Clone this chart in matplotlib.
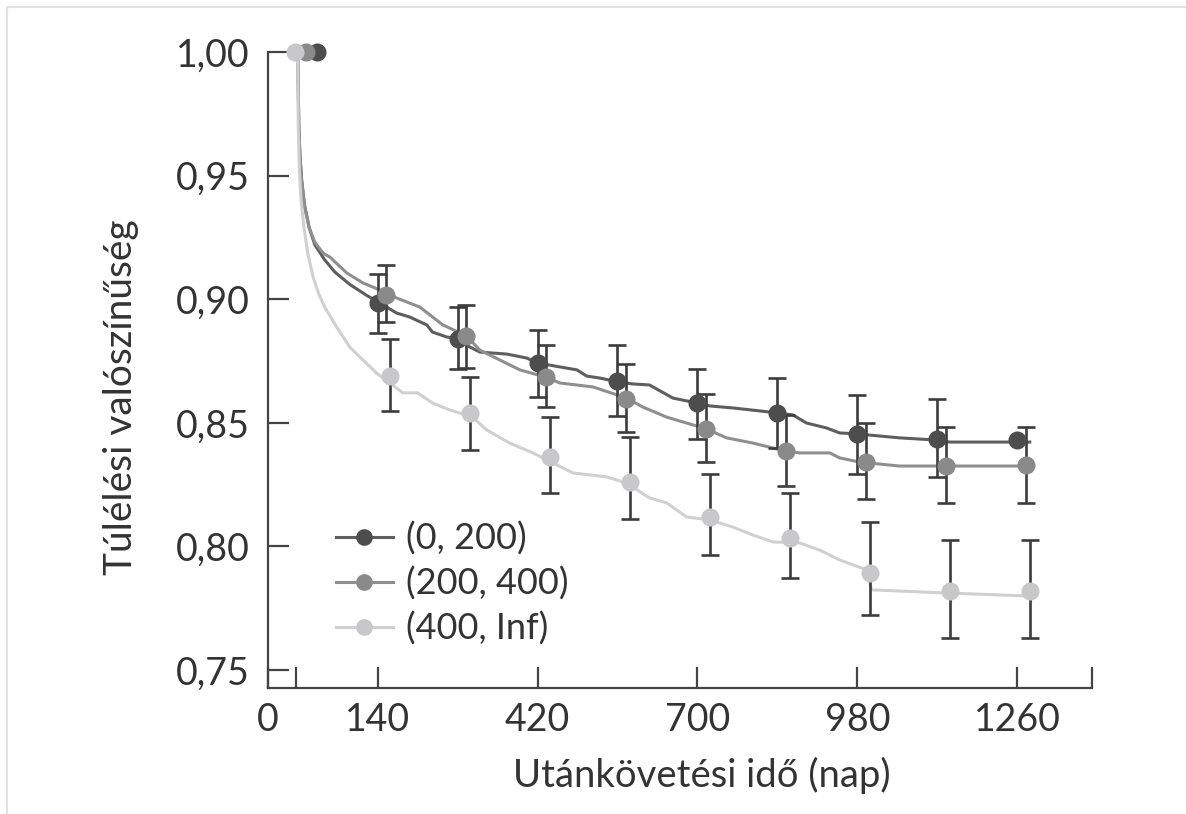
import numpy as np
import matplotlib.pyplot as plt
from matplotlib.lines import Line2D

plt.rcParams['font.family'] = ['Lato', 'DejaVu Sans']

# csoportok (legend)
labels = ['(0, 200)', '(200, 400)', '(400, Inf)']

# Kaplan-Meier gorbek (nap, tulelesi valoszinuseg)
dark_t = [0, 1, 2, 4, 7, 12, 20, 30, 47, 65, 91, 121, 144, 173, 196, 226, 236, 261, 282,
          301, 319, 342, 366, 401, 420, 459, 489, 506, 529, 562, 587, 616, 657, 699, 722,
          762, 809, 839, 867, 891, 926, 949, 979, 1054, 1119, 1142, 1282]
dark_s = [1.0, 0.985, 0.970, 0.958, 0.948, 0.938, 0.929, 0.922, 0.916, 0.911, 0.906,
          0.9015, 0.8985, 0.8944, 0.8928, 0.8896, 0.8867, 0.8847, 0.8839, 0.8807, 0.8786,
          0.8782, 0.8778, 0.8762, 0.8742, 0.8726, 0.8714, 0.8689, 0.8681, 0.8665, 0.8657,
          0.8653, 0.8600, 0.8580, 0.8568, 0.8560, 0.8548, 0.8540, 0.8532, 0.8499, 0.8479,
          0.8459, 0.8455, 0.8439, 0.8430, 0.8422, 0.8422]

mid_t = [0, 1, 2, 4, 7, 12, 20, 30, 45, 56, 86, 114, 144, 173, 214, 254, 296, 319, 354,
         389, 434, 459, 517, 576, 604, 646, 681, 716, 751, 797, 853, 879, 932, 949, 984,
         1054, 1131, 1282]
mid_s = [1.0, 0.985, 0.970, 0.958, 0.948, 0.938, 0.929, 0.923, 0.9185, 0.9171, 0.9106,
         0.9066, 0.9037, 0.9005, 0.8968, 0.8896, 0.8851, 0.8794, 0.8754, 0.8714, 0.8685,
         0.8661, 0.8645, 0.8600, 0.8564, 0.8523, 0.8499, 0.8475, 0.8439, 0.8418, 0.8386,
         0.8378, 0.8378, 0.8358, 0.8341, 0.8325, 0.8325, 0.8325]

light_t = [0, 1, 3, 6, 11, 18, 27, 37, 48, 68, 91, 109, 138, 166, 184, 210, 236, 266, 306,
           331, 371, 412, 447, 482, 541, 576, 616, 646, 681, 722, 762, 797, 832, 879, 914,
           949, 996, 1005, 1140, 1282]
light_s = [1.0, 0.970, 0.952, 0.940, 0.929, 0.918, 0.909, 0.902, 0.8965, 0.8888, 0.8807,
           0.8766, 0.8701, 0.8653, 0.8621, 0.8621, 0.8580, 0.8552, 0.8523, 0.8471, 0.8418,
           0.8378, 0.8337, 0.8297, 0.8281, 0.8256, 0.8196, 0.8176, 0.8119, 0.8107, 0.8078,
           0.8046, 0.8018, 0.8014, 0.7985, 0.7945, 0.7905, 0.7824, 0.7811, 0.7799]

# pontok hibasavokkal
dark_x = [33, 140, 280, 420, 560, 700, 840, 980, 1120, 1260]
dark_y = [1.0, 0.8985, 0.8839, 0.8742, 0.8667, 0.8580, 0.8540, 0.8455, 0.8434, 0.8430]
dark_lo = [np.nan, 0.8863, 0.8718, 0.8604, 0.8528, 0.8434, 0.8398, 0.8293, 0.8281, np.nan]
dark_hi = [np.nan, 0.9100, 0.8968, 0.8875, 0.8813, 0.8718, 0.8681, 0.8612, 0.8596, np.nan]

mid_x = [15, 155, 295, 435, 575, 715, 855, 995, 1135, 1275]
mid_y = [1.0, 0.9017, 0.8851, 0.8685, 0.8596, 0.8475, 0.8386, 0.8341, 0.8325, 0.8329]
mid_lo = [np.nan, 0.8908, 0.8722, 0.8564, 0.8463, 0.8341, 0.8244, 0.8192, 0.8176, 0.8176]
mid_hi = [np.nan, 0.9138, 0.8977, 0.8815, 0.8736, 0.8617, 0.8532, 0.8499, 0.8483, 0.8483]

light_x = [-5, 162, 302, 442, 582, 722, 862, 1002, 1142, 1282]
light_y = [1.0, 0.8689, 0.8540, 0.8362, 0.8260, 0.8119, 0.8034, 0.7892, 0.7820, 0.7820]
light_lo = [np.nan, 0.8548, 0.8390, 0.8216, 0.8111, 0.7965, 0.7870, 0.7722, 0.7629, 0.7629]
light_hi = [np.nan, 0.8839, 0.8685, 0.8523, 0.8443, 0.8293, 0.8216, 0.8099, 0.8026, 0.8026]

yticks = [0.75, 0.80, 0.85, 0.90, 0.95, 1.00]
xticks = [-52, -3, 140, 420, 700, 980, 1260, 1391]
xticklabels = ['0', '', '140', '420', '700', '980', '1260', '']

mark_col = ['#4d4d4d', '#8a8a8a', '#c8c8cb']
line_col = ['#5e5e5e', '#8f8f8f', '#d0d0d0']
err_col = '#3c3c3c'
txt_col = '#333333'

fig = plt.figure(figsize=(11.86, 8.14), dpi=100)
ax = fig.add_axes([268/1186, 1-688/814, 824/1186, 636/814])

curves = [(dark_t, dark_s), (mid_t, mid_s), (light_t, light_s)]
pts = [(dark_x, dark_y, dark_lo, dark_hi), (mid_x, mid_y, mid_lo, mid_hi),
       (light_x, light_y, light_lo, light_hi)]

for i, (t, s) in enumerate(curves):
    ax.plot(t, s, color=line_col[i], lw=2.2, zorder=2, clip_on=False)

for i, (x, y, lo, hi) in enumerate(pts):
    y = np.array(y)
    err = np.array([y - np.array(lo), np.array(hi) - y])
    ax.errorbar(x, y, yerr=err, fmt='none', ecolor=err_col, elinewidth=1.9,
                capsize=6.5, capthick=1.9, zorder=3)

for i, (x, y, lo, hi) in enumerate(pts):
    ax.plot(x, y, 'o', ms=13, color=mark_col[i], mec='none', zorder=4, clip_on=False)

ax.set_xlim(-52, 1391)
ax.set_ylim(0.7427, 1.0)
ax.set_yticks(yticks, [f'{v:.2f}'.replace('.', ',') for v in yticks])
ax.set_xticks(xticks, xticklabels)

for sp in ['top', 'right']:
    ax.spines[sp].set_visible(False)
for sp in ['left', 'bottom']:
    ax.spines[sp].set_color('#444444')
    ax.spines[sp].set_linewidth(1.6)

ax.tick_params(direction='in', length=15, width=1.6, color='#444444',
               labelsize=27, labelcolor=txt_col)
ax.tick_params(axis='y', pad=13)
ax.tick_params(axis='x', pad=10)

ax.set_xlabel('Utánkövetési idő (nap)', fontsize=27.5, color=txt_col)
ax.xaxis.set_label_coords(0.527, -0.108)
ax.set_ylabel('Túlélési valószínűség', fontsize=28, color=txt_col)
ax.yaxis.set_label_coords(-0.156, 0.4575)

handles = [Line2D([0], [0], color=line_col[i], lw=2.2, marker='o', ms=12,
                  markerfacecolor=mark_col[i], markeredgecolor='none') for i in range(3)]
leg = ax.legend(handles, labels, loc='upper left', bbox_to_anchor=(0.082, 0.262),
                frameon=False, fontsize=26, handlelength=1.6, handletextpad=0.35,
                labelspacing=0.3, borderpad=0, borderaxespad=0)
for tx in leg.get_texts():
    tx.set_color(txt_col)

# halvany keret a kep tetejen es bal oldalan
fig.add_artist(Line2D([7/1186, 1], [1-7/814, 1-7/814], color='#e2e2e2', lw=1.5))
fig.add_artist(Line2D([7/1186, 7/1186], [0, 1-7/814], color='#e2e2e2', lw=1.5))

fig.savefig('out.png', dpi=100)
